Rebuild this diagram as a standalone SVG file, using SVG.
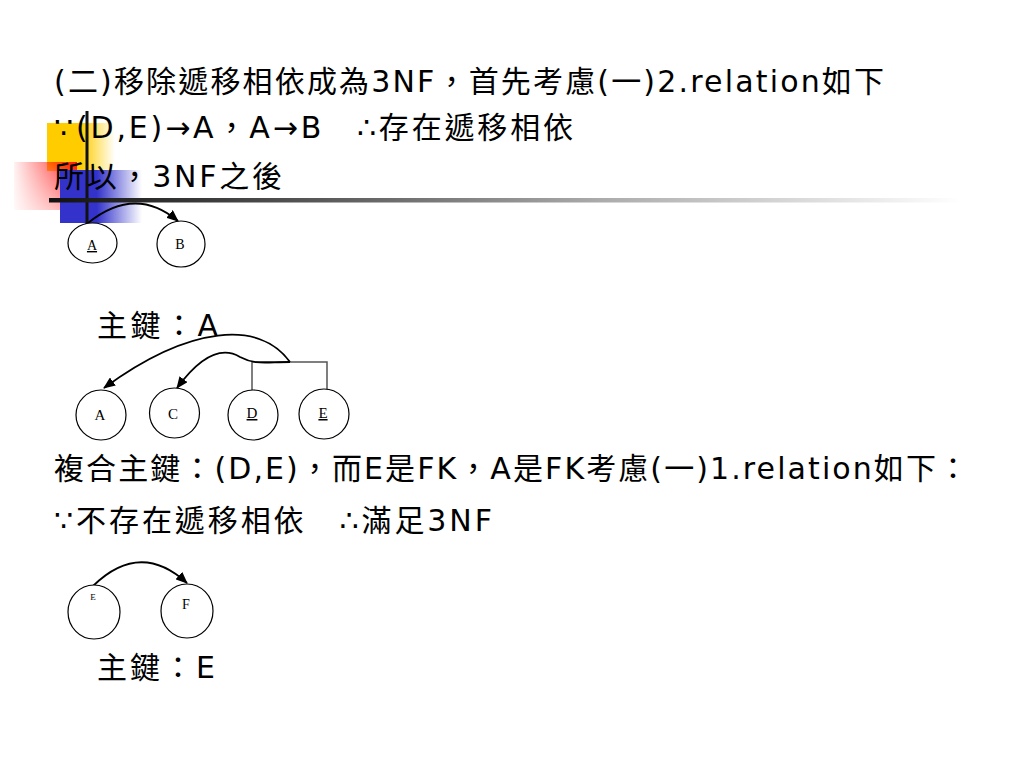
<svg xmlns="http://www.w3.org/2000/svg" width="1024" height="768" viewBox="0 0 1024 768">
<defs>
<linearGradient id="gy" x1="0" y1="0" x2="1" y2="0"><stop offset="0" stop-color="#ffcc00"/><stop offset="0.5" stop-color="#ffcc00"/><stop offset="1" stop-color="#ffcc00" stop-opacity="0"/></linearGradient>
<linearGradient id="gr" x1="0" y1="0" x2="1" y2="0"><stop offset="0" stop-color="#ff0000" stop-opacity="0.05"/><stop offset="1" stop-color="#ff0000" stop-opacity="0.9"/></linearGradient>
<linearGradient id="grv" x1="0" y1="0" x2="0" y2="1"><stop offset="0" stop-color="#fff" stop-opacity="0"/><stop offset="1" stop-color="#fff" stop-opacity="0.6"/></linearGradient>
<linearGradient id="gb" x1="0" y1="0" x2="1" y2="0"><stop offset="0" stop-color="#3333cc"/><stop offset="0.45" stop-color="#3333cc"/><stop offset="1" stop-color="#3333cc" stop-opacity="0"/></linearGradient>
<linearGradient id="gl" x1="0" y1="0" x2="1" y2="0"><stop offset="0" stop-color="#111"/><stop offset="0.35" stop-color="#666"/><stop offset="0.6" stop-color="#aaa"/><stop offset="1" stop-color="#fff"/></linearGradient>
<marker id="ah" markerWidth="12" markerHeight="10" refX="11" refY="5" orient="auto" markerUnits="userSpaceOnUse"><path d="M0,0 L12,5 L0,10 Z" fill="#000"/></marker>
</defs>
<style>
.t{font-family:"DejaVu Sans","Noto Sans CJK TC",sans-serif;font-size:30px;fill:#000}
.n{fill:#fff;stroke:#000;stroke-width:1.2}
.l{font-family:"Liberation Serif",serif;fill:#000;text-anchor:middle}
.c{fill:none;stroke:#000;stroke-width:1.8}
.b{fill:none;stroke:#555;stroke-width:1.5}
</style>
<rect width="1024" height="768" fill="#fff"/>
<g id="decor">
<rect x="47" y="123" width="68" height="48" fill="url(#gy)"/>
<rect x="14" y="162" width="63" height="48" fill="url(#gr)"/>
<rect x="14" y="162" width="63" height="48" fill="url(#grv)"/>
<rect x="60" y="170" width="82" height="53" fill="url(#gb)"/>
<rect x="85.5" y="111" width="3" height="113" fill="#111"/>
<rect x="49" y="198" width="912" height="4.5" fill="url(#gl)"/>
</g>
<g id="texts">
<text class="t" x="54" y="92" textLength="830" lengthAdjust="spacing">(二)移除遞移相依成為3NF，首先考慮(一)2.relation如下</text>
<text class="t" x="54" y="138" textLength="519" lengthAdjust="spacing">∵(D,E)→A，A→B　∴存在遞移相依</text>
<text class="t" x="54" y="187" textLength="228" lengthAdjust="spacing">所以，3NF之後</text>
<text class="t" x="97" y="336" textLength="121" lengthAdjust="spacing">主鍵：A</text>
<text class="t" x="54" y="479" textLength="914" lengthAdjust="spacing">複合主鍵：(D,E)，而E是FK，A是FK考慮(一)1.relation如下：</text>
<text class="t" x="54" y="531" textLength="438" lengthAdjust="spacing">∵不存在遞移相依　∴滿足3NF</text>
<text class="t" x="97" y="678" textLength="118" lengthAdjust="spacing">主鍵：E</text>
</g>
<g id="connectors">
<path class="c" d="M88 223 Q135 185 178 221" marker-end="url(#ah)"/>
<path class="b" d="M252 390 V362 H327 V390"/>
<path class="c" d="M290 362 C260 320 190 325 104 388" marker-end="url(#ah)"/>
<path class="c" d="M290 362 C265 362 255 365 240 357 C225 348 205 350 177 388" marker-end="url(#ah)"/>
<path class="c" d="M93 586 Q140 540 187 583" marker-end="url(#ah)"/>
</g>
<g id="node-A1"><ellipse class="n" cx="92.5" cy="243" rx="24.5" ry="20"/><text class="l" x="92" y="250" font-size="14" text-decoration="underline">A</text></g>
<g id="node-B1"><ellipse class="n" cx="181" cy="244" rx="24" ry="23"/><text class="l" x="180" y="249" font-size="14">B</text></g>
<g id="node-A2"><circle class="n" cx="101" cy="415" r="25"/><text class="l" x="100" y="420" font-size="15">A</text></g>
<g id="node-C2"><circle class="n" cx="174.5" cy="413" r="25"/><text class="l" x="173" y="419" font-size="15">C</text></g>
<g id="node-D2"><circle class="n" cx="253" cy="415" r="25"/><text class="l" x="252" y="418" font-size="15" text-decoration="underline">D</text></g>
<g id="node-E2"><circle class="n" cx="324" cy="414" r="25"/><text class="l" x="323" y="418" font-size="15" text-decoration="underline">E</text></g>
<g id="node-E3"><ellipse class="n" cx="94" cy="612" rx="26" ry="27"/><text class="l" x="93" y="600" font-size="9">E</text></g>
<g id="node-F3"><ellipse class="n" cx="187" cy="611" rx="26" ry="27"/><text class="l" x="186" y="609" font-size="14">F</text></g>
</svg>
